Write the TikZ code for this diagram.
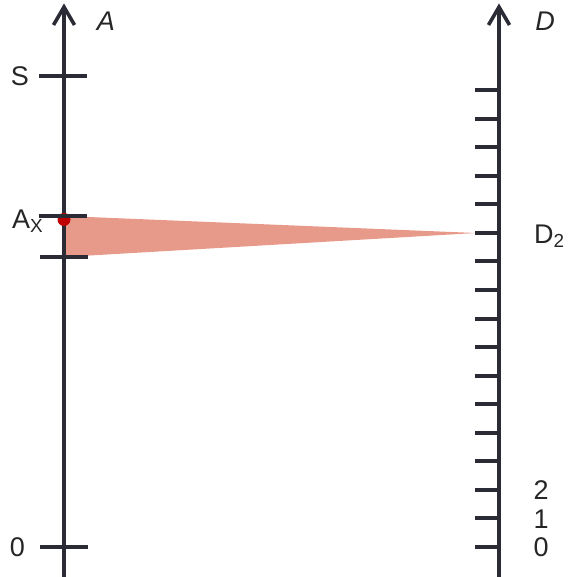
\documentclass[tikz,border=0pt]{standalone}
\usepackage{fontspec}
\setmainfont{Liberation Sans}
\begin{document}
\begin{tikzpicture}[x=1pt,y=-1pt,
  axisline/.style={line width=4pt,draw=axiscol},
  tickline/.style={line width=4pt,draw=axiscol},
  arrowhead/.style={line width=3.6pt,draw=axiscol,line join=miter},
  lbl/.style={inner sep=0pt,font=\fontsize{27}{30}\selectfont,text=black!85},
]
\definecolor{axiscol}{HTML}{2B2B36}
\definecolor{wedgecol}{HTML}{E89A8A}
\definecolor{dotcol}{HTML}{C00000}
\useasboundingbox (0,0) rectangle (569,577);
% coordinates
\coordinate (Abot) at (64,577);
\coordinate (Atop) at (64,7);
\coordinate (Dbot) at (499,577);
\coordinate (Dtop) at (499,7);
\coordinate (wTop) at (64,216);
\coordinate (wBot) at (64,257);
\coordinate (wTip) at (476,233);
% wedge
\fill[wedgecol] (wTop) -- (wTip) -- (wBot) -- cycle;
% axes
\draw[axisline] (Abot) -- (Atop);
\draw[axisline] (Dbot) -- (Dtop);
\draw[arrowhead] (53.5,25) -- (64,7) -- (74.5,25);
\draw[arrowhead] (488.5,25) -- (499,7) -- (509.5,25);
% red dot
\fill[dotcol] (64,219.5) circle (6.5);
% left ticks
\draw[tickline] (39,76) -- (87,76);
\draw[tickline] (39,215.5) -- (87,215.5);
\draw[tickline] (40,257) -- (88,257);
\draw[tickline] (40,547) -- (88,547);
% right ticks
\foreach \i in {0,...,16}{
  \draw[tickline] (475,{547-\i*28.56}) -- (499,{547-\i*28.56});
}
% labels
\node[lbl,font=\fontsize{27}{30}\selectfont\itshape] (lA) at (106,21) {A};
\node[lbl,font=\fontsize{27}{30}\selectfont\itshape] (lD) at (545,21) {D};
\node[lbl] (lS) at (20,76) {S};
\node[lbl,anchor=base west] (lAx) at (12,228) {A\textsubscript{X}};
\node[lbl,anchor=base west] (lD2) at (534,243) {D\textsubscript{2}};
\node[lbl] (l0L) at (17.5,547) {0};
\node[lbl] (l2) at (541,490) {2};
\node[lbl] (l1) at (541,519) {1};
\node[lbl] (l0R) at (541,547) {0};
\end{tikzpicture}
\end{document}
